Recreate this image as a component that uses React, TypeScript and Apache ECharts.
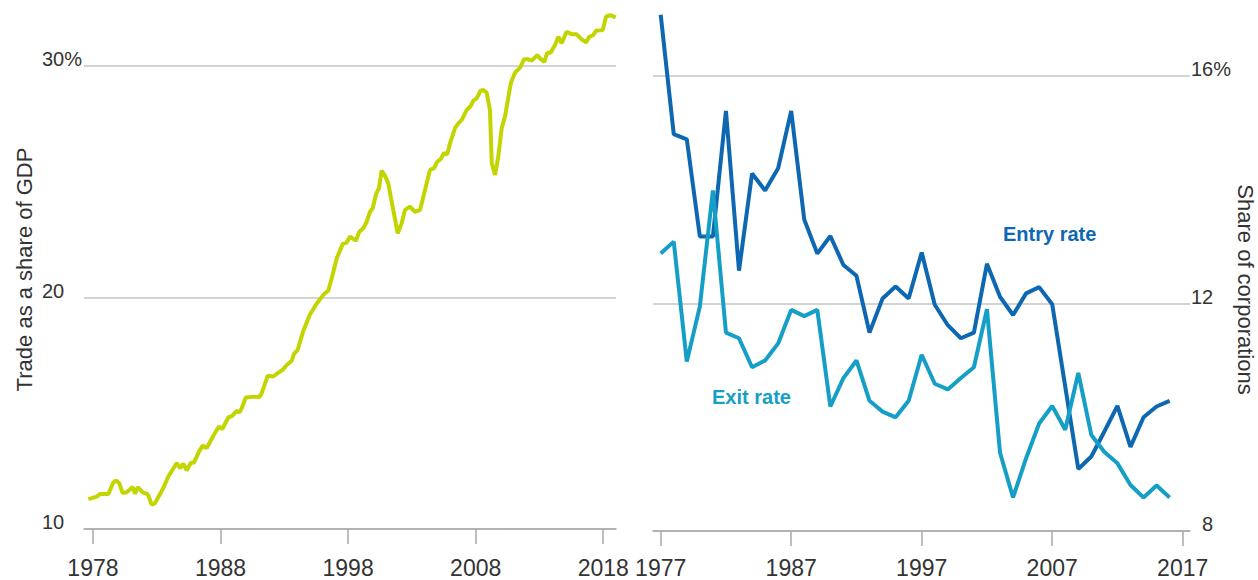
import React, { useEffect, useRef } from "react";
import * as echarts from "echarts";

// Left panel: trade as a share of GDP (%)
const tradeYears = [
  1977.64, 1978.3, 1978.55, 1979.21, 1979.6, 1979.81, 1980.07, 1980.33, 1980.65, 1981.12,
  1981.3, 1981.51, 1981.9, 1982.29, 1982.61, 1982.87, 1983.52, 1983.91, 1984.57, 1984.83,
  1985.08, 1985.35, 1985.66, 1985.92, 1986.26, 1986.6, 1986.92, 1987.44, 1987.88, 1988.14,
  1988.61, 1988.92, 1989.27, 1989.47, 1989.66, 1989.98, 1990.57, 1991.04, 1991.23, 1991.7,
  1992.14, 1992.53, 1992.88, 1993.19, 1993.58, 1993.76, 1994.05, 1994.49, 1995.01, 1995.48,
  1996.06, 1996.45, 1996.72, 1997.11, 1997.58, 1997.89, 1998.15, 1998.62, 1998.88, 1999.19,
  1999.46, 1999.72, 1999.93, 2000.19, 2000.42, 2000.63, 2000.89, 2001.15, 2001.54, 2001.89,
  2002.2, 2002.46, 2002.85, 2003.24, 2003.64, 2004.03, 2004.42, 2004.73, 2004.99, 2005.26,
  2005.52, 2005.78, 2005.99, 2006.38, 2006.64, 2006.91, 2007.3, 2007.61, 2007.82, 2008.08,
  2008.39, 2008.6, 2008.86, 2009.12, 2009.26, 2009.52, 2009.77, 2010.04, 2010.3, 2010.75,
  2011.08, 2011.48, 2011.79, 2012.13, 2012.39, 2012.83, 2013.04, 2013.38, 2013.61, 2013.88,
  2014.22, 2014.48, 2014.74, 2015.13, 2015.53, 2015.92, 2016.31, 2016.65, 2016.91, 2017.22,
  2017.43, 2017.96, 2018.22, 2018.53, 2018.98,
];
const tradeValues = [
  11.29, 11.4, 11.51, 11.51, 12.01, 12.1, 11.98, 11.55, 11.59, 11.81,
  11.52, 11.81, 11.58, 11.51, 11.05, 11.12, 11.77, 12.27, 12.85, 12.63,
  12.82, 12.53, 12.85, 12.87, 13.28, 13.61, 13.5, 14.03, 14.43, 14.32,
  14.82, 14.89, 15.11, 15.03, 15.22, 15.68, 15.72, 15.7, 15.87, 16.62,
  16.59, 16.76, 16.88, 17.09, 17.27, 17.57, 17.74, 18.56, 19.27, 19.69,
  20.12, 20.31, 20.84, 21.7, 22.32, 22.38, 22.64, 22.46, 22.85, 23.0,
  23.28, 23.71, 23.86, 24.47, 24.73, 25.49, 25.26, 24.94, 23.79, 22.78,
  23.21, 23.79, 23.93, 23.71, 23.79, 24.65, 25.52, 25.59, 25.87, 25.99,
  26.24, 26.21, 26.67, 27.32, 27.53, 27.68, 28.11, 28.28, 28.51, 28.61,
  28.94, 28.97, 28.86, 28.11, 25.81, 25.3, 26.09, 27.32, 27.82, 29.26,
  29.72, 29.94, 30.3, 30.3, 30.24, 30.48, 30.34, 30.19, 30.58, 30.58,
  30.92, 31.27, 30.99, 31.49, 31.38, 31.38, 31.16, 31.03, 31.27, 31.35,
  31.53, 31.56, 32.14, 32.21, 32.11,
];
const tradeXTicks = [1978, 1988, 1998, 2008, 2018];
const tradeYTicks = [10, 20, 30];

// Right panel: corporate entry and exit rates (%)
const rateYears = [
  1977, 1978, 1979, 1980, 1981, 1982, 1983, 1984, 1985, 1986,
  1987, 1988, 1989, 1990, 1991, 1992, 1993, 1994, 1995, 1996,
  1997, 1998, 1999, 2000, 2001, 2002, 2003, 2004, 2005, 2006,
  2007, 2008, 2009, 2010, 2011, 2012, 2013, 2014, 2015, 2016,
];
const entryRate = [
  17.08, 14.98, 14.89, 13.18, 13.18, 15.39, 12.58, 14.29, 13.99, 14.38,
  15.39, 13.48, 12.88, 13.19, 12.68, 12.49, 11.49, 12.09, 12.3, 12.09,
  12.9, 11.98, 11.62, 11.39, 11.49, 12.7, 12.12, 11.8, 12.18, 12.29,
  11.99, 10.54, 9.09, 9.31, 9.75, 10.2, 9.48, 10.0, 10.19, 10.29,
];
const exitRate = [
  12.88, 13.09, 10.98, 11.95, 13.99, 11.49, 11.39, 10.88, 11.0, 11.3,
  11.89, 11.78, 11.89, 10.19, 10.69, 11.0, 10.29, 10.1, 10.0, 10.29,
  11.1, 10.59, 10.49, 10.69, 10.88, 11.9, 9.38, 8.59, 9.28, 9.89,
  10.2, 9.78, 10.78, 9.69, 9.39, 9.19, 8.81, 8.59, 8.8, 8.59,
];
const rateXTicks = [1977, 1987, 1997, 2007, 2017];
const rateYTicks = [8, 12, 16];

const FONT = "Liberation Sans, Arial, Helvetica, sans-serif";
const TEXT = "#333333";
const GRID = "#c4c4c4";
const AXIS = "#a8a8a8";
const LIME = "#c3d500";
const ENTRY = "#0e68b1";
const EXIT = "#169fc6";

export default function App() {
  const ref = useRef<HTMLDivElement>(null);

  useEffect(() => {
    document.body.style.margin = "0";
    if (!ref.current) return;
    const chart = echarts.init(ref.current, undefined, { renderer: "svg" });

    const xLabel = {
      fontFamily: FONT,
      fontSize: 23,
      lineHeight: 24,
      color: TEXT,
    };
    const yLabel = {
      fontFamily: FONT,
      fontSize: 20,
      color: TEXT,
    };

    const option: any = {
      animation: false,
      backgroundColor: "#ffffff",
      textStyle: { fontFamily: FONT },
      grid: [
        { left: 84, right: 642, top: 10, bottom: 50.7 },
        { left: 653, right: 68, top: 8, bottom: 49 },
      ],
      xAxis: [
        {
          type: "value",
          gridIndex: 0,
          min: 1977.3,
          max: 2019.0,
          axisLine: { show: true, lineStyle: { color: AXIS, width: 1.5 } },
          axisTick: {
            show: true,
            customValues: tradeXTicks,
            length: 15,
            lineStyle: { color: AXIS, width: 1.5 },
          },
          axisLabel: {
            ...xLabel,
            customValues: tradeXTicks,
            margin: 27,
            formatter: (v: number) => String(v),
          },
          splitLine: { show: false },
        },
        {
          type: "value",
          gridIndex: 1,
          min: 1976.41,
          max: 2017.56,
          axisLine: { show: true, lineStyle: { color: AXIS, width: 1.5 } },
          axisTick: {
            show: true,
            customValues: rateXTicks,
            length: 15,
            lineStyle: { color: AXIS, width: 1.5 },
          },
          axisLabel: {
            ...xLabel,
            customValues: rateXTicks,
            margin: 25,
            formatter: (v: number) => String(v),
          },
          splitLine: { show: false },
        },
      ],
      yAxis: [
        {
          type: "value",
          gridIndex: 0,
          position: "left",
          min: 10,
          max: 32.43,
          name: "Trade as a share of GDP",
          nameLocation: "middle",
          nameGap: 49,
          nameTextStyle: { fontFamily: FONT, fontSize: 22, color: TEXT },
          axisLine: { show: false },
          axisTick: { show: false, customValues: tradeYTicks },
          axisLabel: {
            ...yLabel,
            customValues: tradeYTicks,
            align: "left",
            verticalAlign: "bottom",
            lineHeight: 14,
            margin: 42,
            formatter: (v: number) => (v === 30 ? "30%" : String(v)),
          },
          splitLine: { show: true, lineStyle: { color: GRID, width: 1.5 } },
        },
        {
          type: "value",
          gridIndex: 1,
          position: "right",
          min: 8,
          max: 17.2,
          name: "Share of corporations",
          nameLocation: "middle",
          nameRotate: -90,
          nameGap: 44,
          nameTextStyle: {
            fontFamily: FONT,
            fontSize: 22,
            color: TEXT,
            padding: [0, 0, 0, 40],
          },
          axisLine: { show: false },
          axisTick: { show: false, customValues: rateYTicks },
          axisLabel: {
            ...yLabel,
            customValues: rateYTicks,
            align: "right",
            verticalAlign: "bottom",
            lineHeight: 14,
            margin: 41,
            formatter: (v: number) =>
              v === 16 ? `{n|${v}}{p|%}` : `{n|${v}}{h|%}`,
            rich: {
              n: { fontFamily: FONT, fontSize: 20, color: TEXT, lineHeight: 14 },
              p: { fontFamily: FONT, fontSize: 20, color: TEXT, lineHeight: 14 },
              h: {
                fontFamily: FONT,
                fontSize: 20,
                color: "rgba(0,0,0,0)",
                lineHeight: 14,
              },
            },
          },
          splitLine: { show: true, lineStyle: { color: GRID, width: 1.5 } },
        },
      ],
      graphic: [
        {
          type: "text",
          left: 1003,
          top: 224,
          style: {
            text: "Entry rate",
            fill: ENTRY,
            font: `bold 20px ${FONT}`,
          },
          silent: true,
        },
        {
          type: "text",
          left: 712,
          top: 387,
          style: {
            text: "Exit rate",
            fill: EXIT,
            font: `bold 20px ${FONT}`,
          },
          silent: true,
        },
      ],
      series: [
        {
          name: "Trade as a share of GDP",
          type: "line",
          xAxisIndex: 0,
          yAxisIndex: 0,
          data: tradeYears.map((y, i) => [y, tradeValues[i]]),
          showSymbol: false,
          symbol: "none",
          lineStyle: { color: LIME, width: 4 },
          itemStyle: { color: LIME },
          silent: true,
        },
        {
          name: "Entry rate",
          type: "line",
          xAxisIndex: 1,
          yAxisIndex: 1,
          data: rateYears.map((y, i) => [y, entryRate[i]]),
          showSymbol: false,
          symbol: "none",
          lineStyle: { color: ENTRY, width: 4 },
          itemStyle: { color: ENTRY },
          silent: true,
        },
        {
          name: "Exit rate",
          type: "line",
          xAxisIndex: 1,
          yAxisIndex: 1,
          data: rateYears.map((y, i) => [y, exitRate[i]]),
          showSymbol: false,
          symbol: "none",
          lineStyle: { color: EXIT, width: 4 },
          itemStyle: { color: EXIT },
          silent: true,
        },
      ],
    };

    chart.setOption(option);
    return () => {
      chart.dispose();
    };
  }, []);

  return <div ref={ref} style={{ width: 1258, height: 580 }} />;
}
